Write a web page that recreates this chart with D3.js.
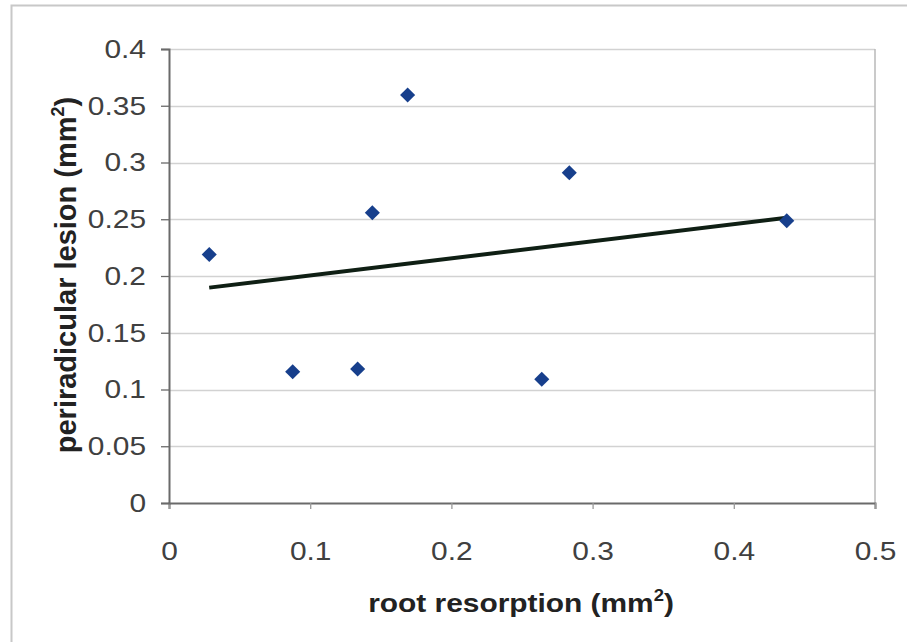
<!DOCTYPE html>
<html>
<head>
<meta charset="utf-8">
<script src="https://cdn.jsdelivr.net/npm/d3@7"></script>
<style>
  body { margin: 0; background: #fff; }
  svg { display: block; font-family: "Liberation Sans", Arial, sans-serif; }
</style>
</head>
<body>
<svg id="chart"></svg>
<script>
// root resorption (mm2) vs periradicular lesion (mm2)
const rootResorption = [0.0285, 0.0876, 0.1336, 0.144, 0.169, 0.264, 0.2835, 0.4375];
const periradicularLesion = [0.219, 0.1157, 0.118, 0.2557, 0.3595, 0.109, 0.291, 0.2487];
const xTicks = [0, 0.1, 0.2, 0.3, 0.4, 0.5];
const yTicks = [0, 0.05, 0.1, 0.15, 0.2, 0.25, 0.3, 0.35, 0.4];

const width = 907;
const height = 642;
const margin = {top: 49, right: 32, bottom: 139, left: 169};
const fontSize = 26;
const stretch = 1.15; // the picture is a little wider than tall

const svg = d3.select("#chart")
    .attr("width", width)
    .attr("height", height)
    .attr("viewBox", [0, 0, width, height]);

// outer chart frame
svg.append("rect")
    .attr("x", 11.5).attr("y", 5.5)
    .attr("width", width).attr("height", height)
    .attr("fill", "none")
    .attr("stroke", "#c8c8c8")
    .attr("stroke-width", 2);

const x = d3.scaleLinear()
    .domain([0, 0.5])
    .range([margin.left, width - margin.right]);

const y = d3.scaleLinear()
    .domain([0, 0.4])
    .range([height - margin.bottom, margin.top]);

// gridlines
svg.append("g")
    .selectAll("line")
    .data(yTicks.slice(1))
    .join("line")
    .attr("x1", x(0)).attr("x2", x(0.5))
    .attr("y1", d => Math.round(y(d)) + 0.5)
    .attr("y2", d => Math.round(y(d)) + 0.5)
    .attr("stroke", "#d2d2d2")
    .attr("stroke-width", 1.3);

// right border of plot area
svg.append("line")
    .attr("x1", x(0.5)).attr("x2", x(0.5))
    .attr("y1", y(0.4)).attr("y2", y(0))
    .attr("stroke", "#b8b8b8")
    .attr("stroke-width", 1.5);

const xAxis = svg.append("g")
    .attr("transform", `translate(0,${y(0)})`)
    .call(d3.axisBottom(x).tickValues(xTicks).tickFormat(d3.format("")).tickSize(6));

const yAxis = svg.append("g")
    .attr("transform", `translate(${x(0)},0)`)
    .call(d3.axisLeft(y).tickValues(yTicks).tickFormat(d3.format("")).tickSize(8));

[xAxis, yAxis].forEach(g => {
    g.select(".domain").attr("stroke", "#6a6a6a").attr("stroke-width", 2);
    g.selectAll(".tick line").attr("stroke", "#6a6a6a").attr("stroke-width", 1.3);
    g.selectAll(".tick text")
        .attr("fill", "#404040")
        .style("font-size", fontSize + "px");
});
xAxis.selectAll(".tick line").attr("stroke", "#999");

xAxis.selectAll(".tick text")
    .attr("x", 0).attr("y", 0).attr("dy", null)
    .attr("transform", `translate(0,57) scale(${stretch},1)`);

yAxis.selectAll(".tick text")
    .attr("x", 0)
    .attr("transform", `translate(-23,0) scale(${stretch},1)`);

// linear trendline (least squares)
const mx = d3.mean(rootResorption);
const my = d3.mean(periradicularLesion);
const slope = d3.sum(rootResorption, (v, i) => (v - mx) * (periradicularLesion[i] - my)) /
    d3.sum(rootResorption, v => (v - mx) ** 2);
const intercept = my - slope * mx;
const ext = d3.extent(rootResorption);

svg.append("line")
    .attr("x1", x(ext[0])).attr("y1", y(intercept + slope * ext[0]))
    .attr("x2", x(ext[1])).attr("y2", y(intercept + slope * ext[1]))
    .attr("stroke", "#0f1f14")
    .attr("stroke-width", 4);

// points
svg.append("g")
    .selectAll("path")
    .data(rootResorption.map((v, i) => [v, periradicularLesion[i]]))
    .join("path")
    .attr("d", d3.symbol(d3.symbolDiamond2, 145))
    .attr("transform", d => `translate(${x(d[0])},${y(d[1])})`)
    .attr("fill", "#173f8c");

// axis titles
const xt = svg.append("text")
    .attr("transform", `translate(521,612) scale(${stretch},1)`)
    .attr("text-anchor", "middle")
    .attr("fill", "#222")
    .style("font-size", fontSize + "px")
    .style("font-weight", "bold")
    .text("root resorption (mm");
xt.append("tspan").attr("dy", -11).style("font-size", "16px").text("2");
xt.append("tspan").attr("dy", 11).text(")");

const yt = svg.append("text")
    .attr("transform", "translate(76,275) rotate(-90)")
    .attr("text-anchor", "middle")
    .attr("fill", "#222")
    .style("font-size", "29px")
    .style("font-weight", "bold")
    .text("periradicular lesion (mm");
yt.append("tspan").attr("dy", -12).style("font-size", "18px").text("2");
yt.append("tspan").attr("dy", 12).text(")");
</script>
</body>
</html>
